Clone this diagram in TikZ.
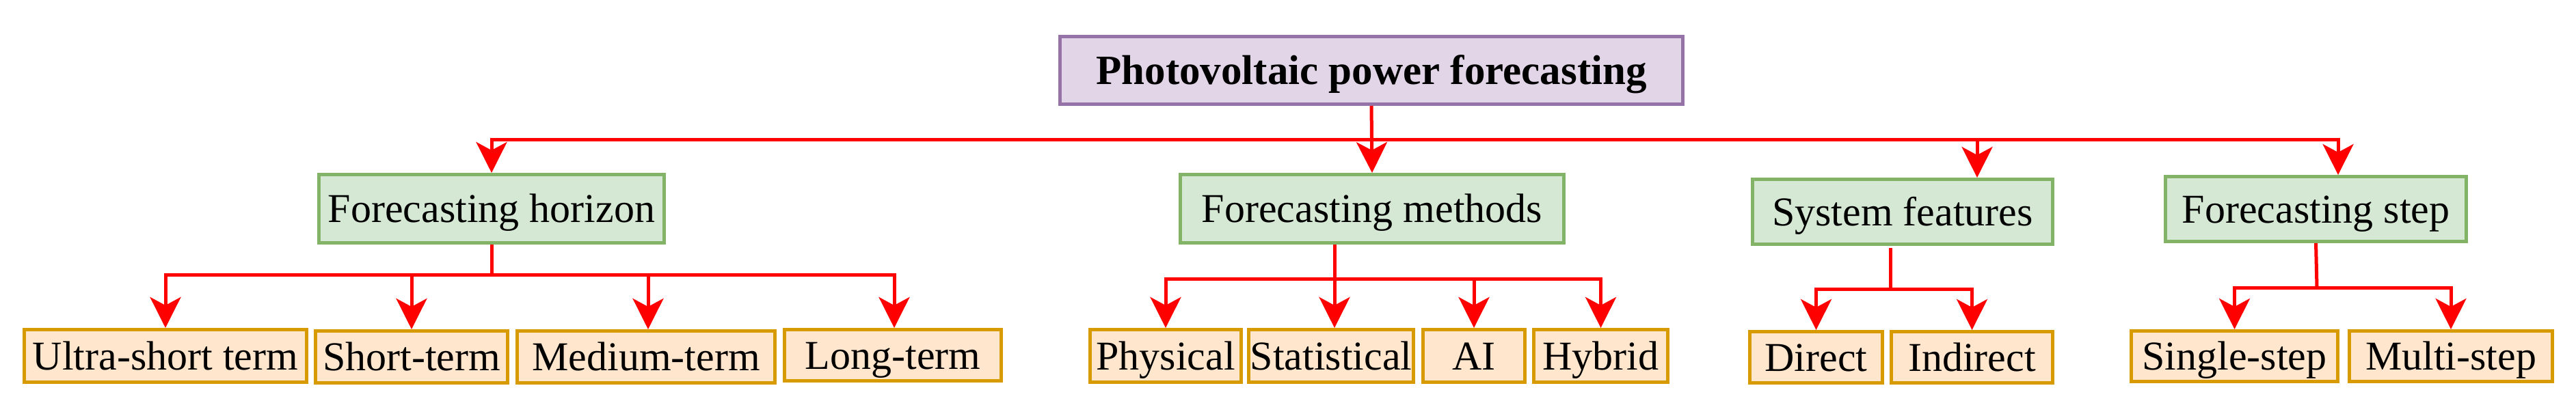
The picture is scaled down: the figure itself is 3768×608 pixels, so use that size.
\documentclass[tikz,border=0pt]{standalone}
\usepackage{fontspec}
\setmainfont{Liberation Serif}
\usetikzlibrary{arrows.meta}
\definecolor{rootfill}{HTML}{E1D5E7}
\definecolor{rootdraw}{HTML}{9673A6}
\definecolor{grpfill}{HTML}{D5E8D4}
\definecolor{grpdraw}{HTML}{82B366}
\definecolor{leaffill}{HTML}{FFE6CC}
\definecolor{leafdraw}{HTML}{D79B00}
\definecolor{linkred}{HTML}{FF0000}
\begin{document}
\begin{tikzpicture}[x=1pt,y=-1pt,
  box/.style={draw, line width=5pt, inner sep=0pt, text height=40pt, text depth=0pt,
              font=\fontsize{60}{72}\selectfont},
  rootbox/.style={box, fill=rootfill, draw=rootdraw, font=\fontsize{61}{72}\selectfont\bfseries},
  grpbox/.style={box, fill=grpfill, draw=grpdraw},
  leafbox/.style={box, fill=leaffill, draw=leafdraw},
  link/.style={draw=linkred, line width=5pt},
  hlink/.style={link, line cap=rect},
  arr/.style={link, -{Stealth[length=45pt,width=45pt,inset=12pt]}}]
\useasboundingbox (0,0) rectangle (3768,608);

% root
\node[rootbox, minimum width=911pt, minimum height=99pt] (root) at (2006,103) {Photovoltaic power forecasting};

% level 1
\node[grpbox, minimum width=505pt, minimum height=100pt] (hor)  at (719,305.5)  {Forecasting horizon};
\node[grpbox, minimum width=561pt, minimum height=100pt] (meth) at (2007,305.5) {Forecasting methods};
\node[grpbox, minimum width=439pt, minimum height=95pt]  (feat) at (2783,310)   {System features};
\node[grpbox, minimum width=440pt, minimum height=95pt]  (step) at (3387.5,306) {Forecasting step};

% leaves
\node[leafbox, minimum width=413pt, minimum height=77pt] (ultra)  at (242,521)    {Ultra-short term};
\node[leafbox, minimum width=281pt, minimum height=76pt] (short)  at (602,522.5)  {Short-term};
\node[leafbox, minimum width=377pt, minimum height=76pt] (medium) at (945,522.5)  {Medium-term};
\node[leafbox, minimum width=317pt, minimum height=75pt] (long)   at (1306,520)   {Long-term};
\node[leafbox, minimum width=221pt, minimum height=77pt] (phys)   at (1705,521)   {Physical};
\node[leafbox, minimum width=241pt, minimum height=77pt] (stat)   at (1947,521)   {Statistical};
\node[leafbox, minimum width=149pt, minimum height=77pt] (ai)     at (2156,521)   {AI};
\node[leafbox, minimum width=196pt, minimum height=77pt] (hyb)    at (2341.5,521) {Hybrid};
\node[leafbox, minimum width=194pt, minimum height=75pt] (direct) at (2656.5,523) {Direct};
\node[leafbox, minimum width=236pt, minimum height=75pt] (indir)  at (2884.5,523) {Indirect};
\node[leafbox, minimum width=302pt, minimum height=74pt] (single) at (3268.5,521.5) {Single-step};
\node[leafbox, minimum width=297pt, minimum height=74pt] (multi)  at (3585,521.5)  {Multi-step};

% level-1 connectors
\coordinate (ty) at (0,204);
\coordinate (fa) at (2892,204);
\coordinate (sa) at (3420,204);
\draw[hlink] (hor.north |- ty) -- (sa);
\draw[arr] (root.south) -- (meth.north);
\draw[arr] (hor.north |- ty) -- (hor.north);
\draw[arr] (fa) -- (fa |- feat.north);
\draw[arr] (sa) -- (sa |- step.north);

% horizon group
\coordinate (hy) at (0,402);
\draw[link] (hor.south) -- (hor.south |- hy);
\draw[hlink] (ultra.north |- hy) -- (1308,402);
\draw[arr] (ultra.north |- hy) -- (ultra.north);
\draw[arr] (short.north |- hy) -- (short.north);
\draw[arr] (948,402) -- (medium.north -| 948,0);
\draw[arr] (1308,402) -- (long.north -| 1308,0);

% methods group
\coordinate (mj) at (1952,408);
\draw[hlink] (phys.north |- mj) -- (hyb.north |- mj);
\draw[arr] (meth.south -| mj) -- (mj |- stat.north);
\draw[arr] (phys.north |- mj) -- (phys.north);
\draw[arr] (ai.north |- mj) -- (ai.north);
\draw[arr] (hyb.north |- mj) -- (hyb.north);

% features group
\coordinate (fj) at (2765,423);
\draw[link] (2765,363) -- (fj);
\draw[hlink] (direct.north |- fj) -- (indir.north |- fj);
\draw[arr] (direct.north |- fj) -- (direct.north);
\draw[arr] (indir.north |- fj) -- (indir.north);

% step group
\coordinate (sj) at (3389,421);
\draw[link] (step.south) -- (sj);
\draw[hlink] (single.north |- sj) -- (multi.north |- sj);
\draw[arr] (single.north |- sj) -- (single.north);
\draw[arr] (multi.north |- sj) -- (multi.north);
\end{tikzpicture}
\end{document}
